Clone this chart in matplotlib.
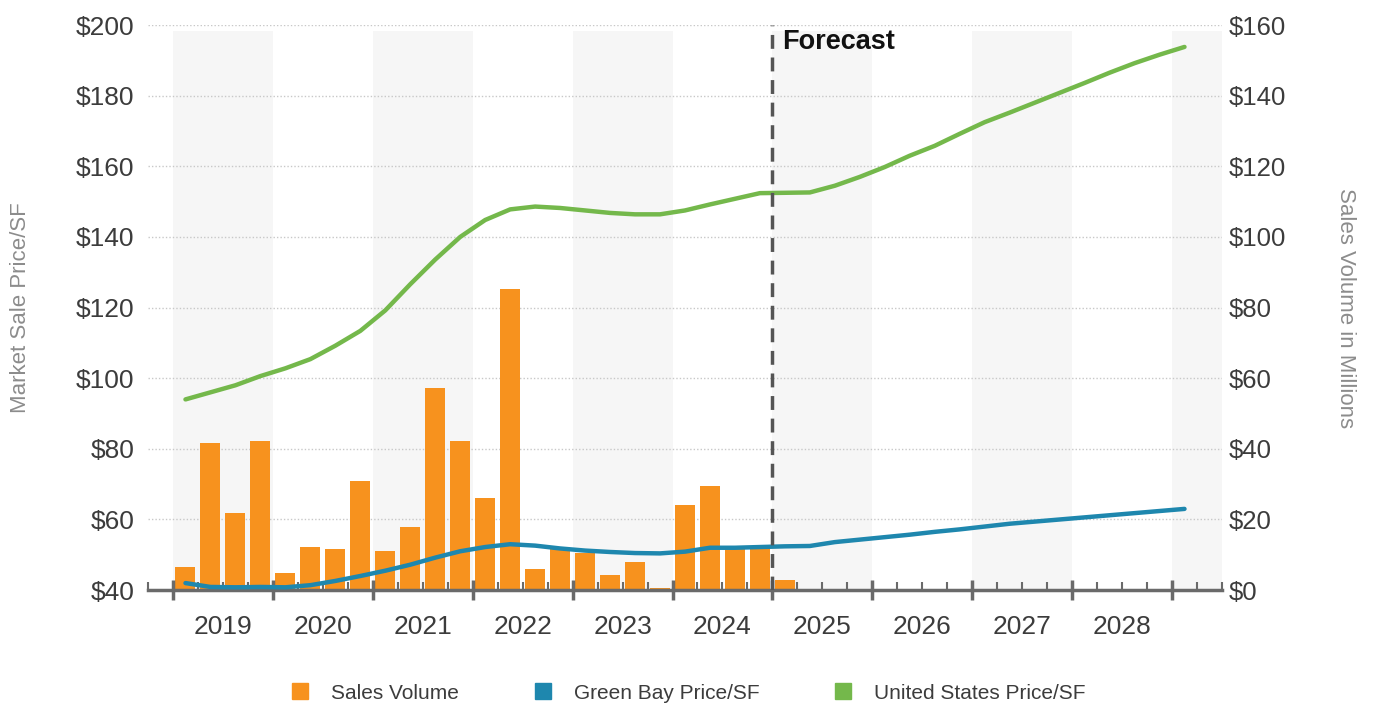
import numpy as np
import matplotlib
matplotlib.use("Agg")
import matplotlib.pyplot as plt
from matplotlib.lines import Line2D

plt.rcParams['font.family'] = ['Liberation Sans', 'DejaVu Sans']

# quarterly sales volume ($M), 2019 Q1 .. 2025 Q1
sales_volume = [6.5, 41.7, 21.9, 42.2, 4.9, 12.3, 11.7, 30.9, 11.2, 18.0,
                57.3, 42.2, 26.0, 85.4, 6.1, 11.7, 10.6, 4.4, 7.9, 0.7,
                24.0, 29.6, 11.7, 11.7, 2.8]

# quarterly price per SF, 2019 Q1 .. 2029 Q1
green_bay_price = [42.0, 40.9, 40.8, 40.9, 40.8, 41.4, 42.6, 44.0, 45.5, 47.2,
                   49.2, 51.0, 52.2, 53.0, 52.6, 51.8, 51.2, 50.8, 50.5, 50.4,
                   50.9, 52.0, 52.0, 52.2, 52.4, 52.5, 53.6, 54.3, 55.0, 55.7,
                   56.5, 57.2, 58.0, 58.8, 59.4, 60.0, 60.6, 61.2, 61.8, 62.4,
                   63.0]
us_price = [94.0, 96.0, 98.0, 100.6, 102.8, 105.4, 109.2, 113.4, 119.2, 126.6,
            133.6, 140.0, 144.8, 147.8, 148.6, 148.2, 147.5, 146.8, 146.4, 146.4,
            147.5, 149.2, 150.8, 152.4, 152.5, 152.6, 154.5, 157.0, 159.8, 163.0,
            165.8, 169.2, 172.5, 175.2, 178.0, 180.8, 183.6, 186.5, 189.2, 191.6,
            193.8]

years = list(range(2019, 2029))
forecast_start = 2025
first_year = 2019

c_bar = '#F7921E'
c_gb = '#1E87AE'
c_us = '#74B84B'
c_txt = '#3C3C3C'
c_axis = '#6A6A6A'

fig = plt.figure(figsize=(13.73, 7.11), dpi=100)
ax2 = fig.add_axes([0.1078, 0.170, 0.7822, 0.7948])
ax = ax2.twinx()
ax.set_zorder(ax2.get_zorder() + 1)
ax.patch.set_visible(False)

x_min, x_max = 2018.75, 2029.5
ax2.set_xlim(x_min, x_max)
ax.set_xlim(x_min, x_max)

# alternating year bands
for y in range(2019, 2030, 2):
    ax2.axvspan(y, min(y + 1, x_max), ymax=0.99, color='#F6F6F6', zorder=0, lw=0)

# bars on the right axis
bar_x = first_year + 0.125 + 0.25 * np.arange(len(sales_volume))
ax2.bar(bar_x, sales_volume, width=0.2, color=c_bar, zorder=2)
ax2.set_ylim(0, 160)
ax2.set_yticks(np.arange(0, 161, 20))
ax2.yaxis.tick_right()
ax2.set_yticklabels([f'${v}' for v in range(0, 161, 20)])
ax2.grid(axis='y', color='#C8C8C8', linestyle=(0, (1, 1.5)), linewidth=1, zorder=1)
ax2.set_axisbelow(True)
ax2.tick_params(axis='y', length=0, pad=5, labelsize=18.5, labelcolor=c_txt)
ax2.set_ylabel('Sales Volume in Millions', rotation=270, labelpad=50,
               fontsize=16, color='#8C8C8C')
ax2.yaxis.set_label_position('right')

# price lines on the left axis
line_x = first_year + 0.125 + 0.25 * np.arange(len(us_price))
ax.plot(line_x, us_price, color=c_us, lw=3.2, zorder=3, solid_capstyle='round')
ax.plot(line_x, green_bay_price, color=c_gb, lw=3.2, zorder=3, solid_capstyle='round')
ax.set_ylim(40, 200)
ax.yaxis.tick_left()
ax.yaxis.set_label_position('left')
ax.set_yticks(np.arange(40, 201, 20))
ax.set_yticklabels([f'${v}' for v in range(40, 201, 20)])
ax.tick_params(axis='y', length=0, pad=10, labelsize=19, labelcolor=c_txt)
ax.set_ylabel('Market Sale Price/SF', fontsize=16, color='#8C8C8C', labelpad=32)

# forecast marker
ax.axvline(forecast_start, color='#555555', lw=2.5, linestyle=(0, (4, 2.5)), zorder=4)
ax.text(forecast_start + 0.1, 195.2, 'Forecast', fontsize=19.5, fontweight='bold',
        color='#111111', va='center', ha='left')

# x axis
for a in (ax, ax2):
    for s in a.spines.values():
        s.set_visible(False)
ax.xaxis.set_visible(True)
ax.spines['bottom'].set_visible(True)
ax.spines['bottom'].set_color(c_axis)
ax.spines['bottom'].set_linewidth(2.5)
ax2.tick_params(axis='x', which='both', length=0, labelbottom=False)
ax.xaxis.set_ticks_position('bottom')
ax.set_xticks(range(2019, 2030))
ax.set_xticklabels([])
ax.set_xticks(np.arange(x_min, x_max + 0.01, 0.25), minor=True)
ax.tick_params(axis='x', which='major', direction='inout', length=14, width=2.5,
               color=c_axis)
ax.tick_params(axis='x', which='minor', direction='in', length=6, width=1.5,
               color=c_axis)
for y in years:
    ax.text(y + 0.5, 29.5, str(y), ha='center', va='center', fontsize=19,
            color=c_txt)

# legend
handles = [Line2D([], [], marker='s', linestyle='none', markersize=12, color=c_bar),
           Line2D([], [], marker='s', linestyle='none', markersize=12, color=c_gb),
           Line2D([], [], marker='s', linestyle='none', markersize=12, color=c_us)]
labels = ['Sales Volume', 'Green Bay Price/SF', 'United States Price/SF']
fig.legend(handles, labels, loc='center', bbox_to_anchor=(0.497, 0.025), ncol=3,
           frameon=False, fontsize=15, handletextpad=0.5, columnspacing=3.0,
           labelcolor=c_txt)

fig.savefig('out.png', dpi=100)
